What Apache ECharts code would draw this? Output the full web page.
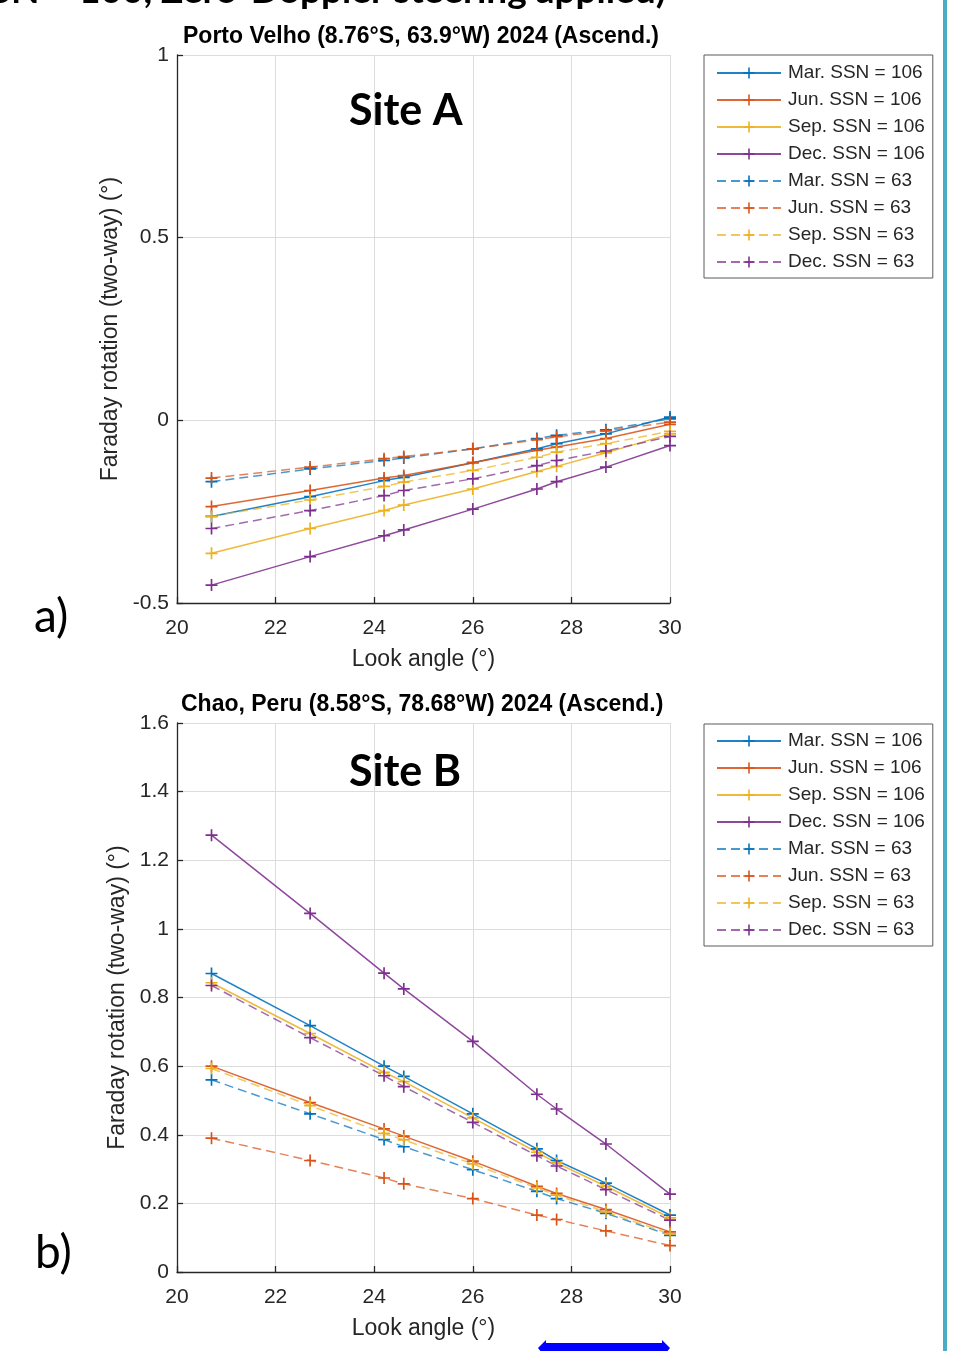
<!DOCTYPE html>
<html>
<head>
<meta charset="utf-8">
<script src="https://cdn.jsdelivr.net/npm/echarts@6/dist/echarts.min.js"></script>
<style>
  html, body { margin: 0; padding: 0; background: #fff; }
  #chart { width: 953px; height: 1351px; }
</style>
</head>
<body>
<div id="chart"></div>
<script>
// look angles (deg), shared by both panels
const lookAngle = [20.7, 22.7, 24.2, 24.6, 26.0, 27.3, 27.7, 28.7, 30.0];
const seriesNames = ["Mar. SSN = 106", "Jun. SSN = 106", "Sep. SSN = 106", "Dec. SSN = 106",
                     "Mar. SSN = 63", "Jun. SSN = 63", "Sep. SSN = 63", "Dec. SSN = 63"];

// site A, Porto Velho
const aMar106 = [-0.263, -0.209, -0.165, -0.156, -0.116, -0.078, -0.064, -0.037, 0.009];
const aJun106 = [-0.236, -0.192, -0.158, -0.151, -0.116, -0.082, -0.073, -0.050, -0.011];
const aSep106 = [-0.364, -0.296, -0.247, -0.232, -0.188, -0.140, -0.126, -0.089, -0.037];
const aDec106 = [-0.451, -0.373, -0.316, -0.300, -0.243, -0.188, -0.168, -0.128, -0.069];
const aMar63  = [-0.168, -0.133, -0.110, -0.103, -0.078, -0.050, -0.041, -0.026, 0.004];
const aJun63  = [-0.158, -0.128, -0.105, -0.099, -0.078, -0.053, -0.045, -0.029, -0.005];
const aSep63  = [-0.263, -0.218, -0.181, -0.169, -0.137, -0.101, -0.087, -0.064, -0.030];
const aDec63  = [-0.296, -0.247, -0.206, -0.192, -0.160, -0.124, -0.110, -0.084, -0.044];

// site B, Chao
const bMar106 = [0.870, 0.718, 0.600, 0.570, 0.461, 0.359, 0.325, 0.259, 0.166];
const bJun106 = [0.600, 0.494, 0.417, 0.396, 0.323, 0.250, 0.229, 0.182, 0.117];
const bSep106 = [0.843, 0.695, 0.582, 0.555, 0.449, 0.349, 0.318, 0.250, 0.158];
const bDec106 = [1.273, 1.045, 0.871, 0.825, 0.672, 0.518, 0.475, 0.373, 0.227];
const bMar63  = [0.560, 0.461, 0.386, 0.365, 0.298, 0.235, 0.214, 0.171, 0.107];
const bJun63  = [0.390, 0.325, 0.274, 0.257, 0.214, 0.166, 0.153, 0.120, 0.077];
const bSep63  = [0.593, 0.485, 0.404, 0.385, 0.315, 0.245, 0.224, 0.175, 0.111];
const bDec63  = [0.835, 0.683, 0.572, 0.540, 0.436, 0.339, 0.309, 0.240, 0.151];

const yTicksA = [-0.5, 1, 0.5];   // min, max, step
const yTicksB = [0, 1.6, 0.2];
const xTicks = [20, 30, 2];

const colors = ["#0072BD", "#D95319", "#EDB120", "#7E2F8E"];
const PLUS = "path://M4.3,0H5.7V4.3H10V5.7H5.7V10H4.3V5.7H0V4.3H4.3Z";
const FONT = "Liberation Sans";
const INK = "#262626";

function makeSeries(name, values, idx, gi) {
    var dashed = idx >= 4;
    var color = colors[idx % 4];
    return {
        type: "line",
        name: name,
        xAxisIndex: gi,
        yAxisIndex: gi,
        data: lookAngle.map((x, i) => [x, values[i]]),
        symbol: PLUS,
        symbolSize: 12,
        showSymbol: true,
        showAllSymbol: true,
        lineStyle: { color: color, width: 1.5, type: dashed ? [9, 5] : "solid", opacity: dashed ? 0.72 : 0.88 },
        itemStyle: { color: color },
        emphasis: { disabled: true },
        animation: false
    };
}

function makeX(gi) {
    return {
        type: "value", gridIndex: gi,
        min: xTicks[0], max: xTicks[1], interval: xTicks[2],
        name: "Look angle (°)", nameLocation: "middle", nameGap: 45,
        nameTextStyle: { fontSize: 23, color: INK, fontFamily: FONT },
        axisLine: { show: true, onZero: false, lineStyle: { color: INK, width: 1.3 } },
        axisTick: { show: true, inside: true, length: 6, lineStyle: { color: INK, width: 1.3 } },
        axisLabel: { fontSize: 21, color: INK, margin: 15, fontFamily: FONT },
        splitLine: { show: true, lineStyle: { color: "#dcdcdc", width: 1 } }
    };
}

function makeY(gi, ticks, gap) {
    return {
        type: "value", gridIndex: gi,
        min: ticks[0], max: ticks[1], interval: ticks[2],
        name: "Faraday rotation (two-way) (°)", nameLocation: "middle", nameGap: gap,
        nameTextStyle: { fontSize: 23, color: INK, fontFamily: FONT },
        axisLine: { show: true, onZero: false, lineStyle: { color: INK, width: 1.3 } },
        axisTick: { show: true, inside: true, length: 6, lineStyle: { color: INK, width: 1.3 } },
        axisLabel: { fontSize: 21, color: INK, margin: 8, fontFamily: FONT,
                     formatter: v => String(Math.round(v * 10) / 10) },
        splitLine: { show: true, lineStyle: { color: "#dcdcdc", width: 1 } }
    };
}

function makeLegend(top, padTop) {
    return {
        data: seriesNames,
        orient: "vertical",
        left: 704, top: top,
        padding: [padTop, 8, 6, 12],
        itemWidth: 64, itemHeight: 14, itemGap: 7,
        borderColor: "#5a5a5a", borderWidth: 1,
        backgroundColor: "#fff",
        selectedMode: false,
        textStyle: { fontSize: 19, color: INK, fontFamily: FONT, lineHeight: 20, padding: [0, 0, 0, 2] }
    };
}

var series = [];
[aMar106, aJun106, aSep106, aDec106, aMar63, aJun63, aSep63, aDec63].forEach((v, i) => series.push(makeSeries(seriesNames[i], v, i, 0)));
[bMar106, bJun106, bSep106, bDec106, bMar63, bJun63, bSep63, bDec63].forEach((v, i) => series.push(makeSeries(seriesNames[i], v, i, 1)));

var chart = echarts.init(document.getElementById("chart"), null, { renderer: "canvas" });
chart.setOption({
    backgroundColor: "#fff",
    animation: false,
    title: [
        { text: "Porto Velho (8.76°S, 63.9°W) 2024 (Ascend.)", left: 183, top: 25, padding: 0,
          textStyle: { fontSize: 23, fontWeight: "bold", color: "#000", fontFamily: FONT } },
        { text: "Chao, Peru (8.58°S, 78.68°W) 2024 (Ascend.)", left: 181, top: 693, padding: 0,
          textStyle: { fontSize: 23, fontWeight: "bold", color: "#000", fontFamily: FONT } }
    ],
    legend: [makeLegend(55, 8), makeLegend(724, 7)],
    grid: [
        { left: 177, top: 55, width: 493, height: 548 },
        { left: 177, top: 723, width: 493, height: 549 }
    ],
    xAxis: [makeX(0), makeX(1)],
    yAxis: [makeY(0, yTicksA, 53), makeY(1, yTicksB, 48)],
    series: series,
    graphic: [
        // cropped heading from the slide above
        { type: "text", x: 666, y: 10, z: 10,
          style: { text: "SSN = 100, Zero-Doppler steering applied)", font: "bold 37px Lato", fill: "#000",
                   align: "right", verticalAlign: "bottom" } },
        { type: "text", left: 349, top: 90, z: 10,
          style: { text: "Site A", font: "bold 43px Lato", fill: "#000" } },
        { type: "text", left: 349, top: 751, z: 10,
          style: { text: "Site B", font: "bold 43px Lato", fill: "#000" } },
        { type: "text", left: 34, top: 594, z: 10,
          style: { text: "a)", font: "46px Lato", fill: "#000" } },
        { type: "text", left: 35, top: 1230, z: 10,
          style: { text: "b)", font: "46px Lato", fill: "#000" } },
        // slide border on the right
        { type: "rect", shape: { x: 943, y: 0, width: 4, height: 1351 }, style: { fill: "#4bacc6" } },
        // double arrow at the bottom
        { type: "polygon", z: 10,
          shape: { points: [[538, 1348], [546, 1340], [546, 1343], [662, 1343], [662, 1340], [670, 1348], [662, 1358], [546, 1358]] },
          style: { fill: "#0000ff" } }
    ]
});
</script>
</body>
</html>
